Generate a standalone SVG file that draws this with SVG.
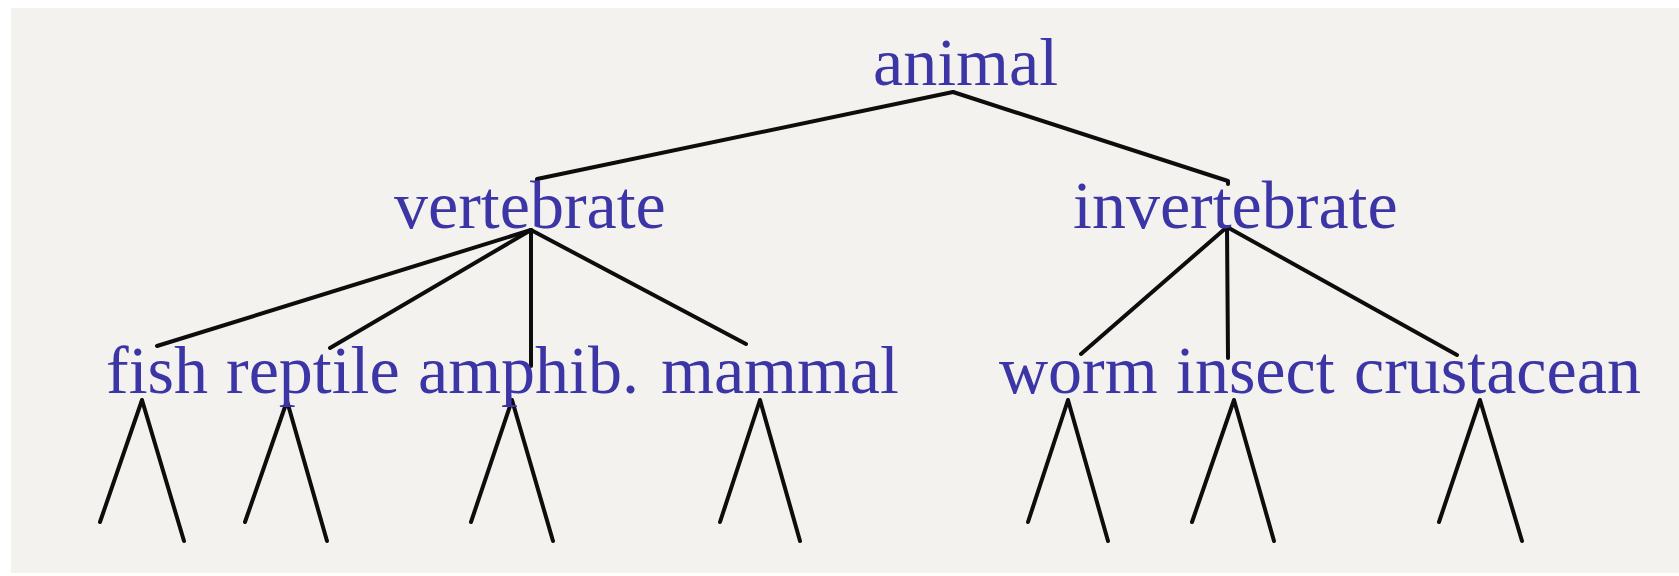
<svg xmlns="http://www.w3.org/2000/svg" width="1679" height="576" viewBox="0 0 1679 576">
  <style>
    .lbl { font-family: "Liberation Serif", "Times New Roman", serif; font-size: 68px; fill: #3c35a6; }
    .edge { fill: none; stroke: #0d0d0d; stroke-width: 4; stroke-linecap: round; stroke-linejoin: round; }
  </style>
  <rect x="0" y="0" width="1679" height="576" fill="#ffffff"/>
  <rect x="11" y="8" width="1668" height="565" fill="#f4f2ee"/>

  <g id="connectors">
    <polyline class="edge" points="953,92 537,179 537,183"/>
    <polyline class="edge" points="953,92 1228,181 1228,184"/>
    <line class="edge" x1="531" y1="230" x2="157" y2="346"/>
    <line class="edge" x1="531" y1="230" x2="330" y2="348"/>
    <line class="edge" x1="531" y1="230" x2="531" y2="366"/>
    <line class="edge" x1="531" y1="230" x2="746" y2="344"/>
    <line class="edge" x1="1227" y1="227" x2="1081" y2="354"/>
    <line class="edge" x1="1227" y1="227" x2="1228" y2="358"/>
    <line class="edge" x1="1227" y1="227" x2="1457" y2="355"/>
    <polyline class="edge" points="100,522 142,400 184,541"/>
    <polyline class="edge" points="245,522 287,401 327,541"/>
    <polyline class="edge" points="471,522 512,400 553,541"/>
    <polyline class="edge" points="720,522 760,400 800,541"/>
    <polyline class="edge" points="1028,522 1068,400 1108,541"/>
    <polyline class="edge" points="1192,522 1234,400 1274,541"/>
    <polyline class="edge" points="1439,522 1480,400 1522,541"/>
  </g>

  <g id="animal"><text class="lbl" x="873" y="85">animal</text></g>
  <g id="vertebrate"><text class="lbl" x="394" y="228">vertebrate</text></g>
  <g id="invertebrate"><text class="lbl" x="1073" y="228">invertebrate</text></g>
  <g id="fish"><text class="lbl" x="106" y="393">fish</text></g>
  <g id="reptile"><text class="lbl" x="226" y="393">reptile</text></g>
  <g id="amphib"><text class="lbl" x="418" y="393">amphib.</text></g>
  <g id="mammal"><text class="lbl" x="661" y="393">mammal</text></g>
  <g id="worm"><text class="lbl" x="999" y="393">worm</text></g>
  <g id="insect"><text class="lbl" x="1176" y="393">insect</text></g>
  <g id="crustacean"><text class="lbl" x="1354" y="393">crustacean</text></g>
</svg>
